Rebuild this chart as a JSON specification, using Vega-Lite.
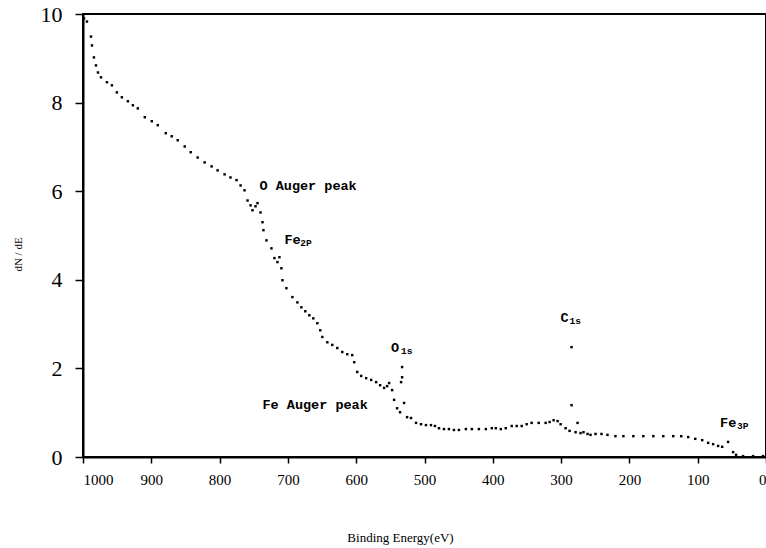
{
  "$schema": "https://vega.github.io/schema/vega-lite/v6.json",
  "width": 683,
  "height": 443,
  "autosize": {"type": "none"},
  "padding": {"left": 83, "top": 14, "right": 0, "bottom": 91},
  "background": "white",
  "config": {
    "view": {"stroke": "black", "strokeWidth": 2},
    "axis": {"grid": false, "domainColor": "black", "domainWidth": 2, "tickColor": "black", "labelColor": "black", "titleColor": "black"}
  },
  "datasets": {
    "spectrum": [
      {"eV": 998.5, "dNdE": 9.90}, {"eV": 994.2, "dNdE": 9.83}, {"eV": 988.3, "dNdE": 9.49}, {"eV": 986.9, "dNdE": 9.29},
      {"eV": 984.0, "dNdE": 9.02}, {"eV": 981.0, "dNdE": 8.84}, {"eV": 978.1, "dNdE": 8.68}, {"eV": 973.7, "dNdE": 8.57},
      {"eV": 965.0, "dNdE": 8.46}, {"eV": 957.7, "dNdE": 8.39}, {"eV": 950.4, "dNdE": 8.23}, {"eV": 943.1, "dNdE": 8.12},
      {"eV": 934.3, "dNdE": 8.03}, {"eV": 927.0, "dNdE": 7.94}, {"eV": 919.7, "dNdE": 7.87}, {"eV": 909.5, "dNdE": 7.67},
      {"eV": 899.3, "dNdE": 7.58}, {"eV": 890.5, "dNdE": 7.49}, {"eV": 878.8, "dNdE": 7.31}, {"eV": 870.1, "dNdE": 7.24},
      {"eV": 861.3, "dNdE": 7.15}, {"eV": 851.1, "dNdE": 7.01}, {"eV": 842.3, "dNdE": 6.88}, {"eV": 832.1, "dNdE": 6.76},
      {"eV": 821.9, "dNdE": 6.65}, {"eV": 811.7, "dNdE": 6.56}, {"eV": 802.9, "dNdE": 6.47}, {"eV": 792.7, "dNdE": 6.38},
      {"eV": 784.1, "dNdE": 6.31}, {"eV": 775.2, "dNdE": 6.25}, {"eV": 769.3, "dNdE": 6.13}, {"eV": 763.5, "dNdE": 6.02},
      {"eV": 759.1, "dNdE": 5.79}, {"eV": 754.7, "dNdE": 5.68}, {"eV": 751.8, "dNdE": 5.57}, {"eV": 747.4, "dNdE": 5.66},
      {"eV": 744.5, "dNdE": 5.73}, {"eV": 740.1, "dNdE": 5.52}, {"eV": 737.2, "dNdE": 5.30}, {"eV": 735.8, "dNdE": 5.12},
      {"eV": 731.4, "dNdE": 4.89}, {"eV": 724.1, "dNdE": 4.71}, {"eV": 719.7, "dNdE": 4.49}, {"eV": 715.3, "dNdE": 4.40},
      {"eV": 712.4, "dNdE": 4.51}, {"eV": 709.5, "dNdE": 4.26}, {"eV": 708.0, "dNdE": 3.99}, {"eV": 702.2, "dNdE": 3.81},
      {"eV": 693.4, "dNdE": 3.61}, {"eV": 686.1, "dNdE": 3.49}, {"eV": 680.3, "dNdE": 3.38}, {"eV": 674.5, "dNdE": 3.29},
      {"eV": 668.6, "dNdE": 3.20}, {"eV": 662.8, "dNdE": 3.13}, {"eV": 656.9, "dNdE": 3.02}, {"eV": 652.6, "dNdE": 2.86},
      {"eV": 649.6, "dNdE": 2.71}, {"eV": 642.3, "dNdE": 2.59}, {"eV": 635.0, "dNdE": 2.53}, {"eV": 627.7, "dNdE": 2.46},
      {"eV": 620.4, "dNdE": 2.37}, {"eV": 613.1, "dNdE": 2.32}, {"eV": 605.8, "dNdE": 2.30}, {"eV": 602.9, "dNdE": 2.14},
      {"eV": 598.5, "dNdE": 1.92}, {"eV": 592.7, "dNdE": 1.83}, {"eV": 585.4, "dNdE": 1.78}, {"eV": 578.1, "dNdE": 1.74},
      {"eV": 570.8, "dNdE": 1.69}, {"eV": 565.0, "dNdE": 1.62}, {"eV": 559.1, "dNdE": 1.56}, {"eV": 554.7, "dNdE": 1.60},
      {"eV": 551.8, "dNdE": 1.67}, {"eV": 547.4, "dNdE": 1.51}, {"eV": 544.5, "dNdE": 1.29}, {"eV": 540.1, "dNdE": 1.10},
      {"eV": 535.8, "dNdE": 1.01}, {"eV": 534.3, "dNdE": 1.69}, {"eV": 532.8, "dNdE": 1.80}, {"eV": 532.8, "dNdE": 2.03},
      {"eV": 529.9, "dNdE": 1.22}, {"eV": 525.5, "dNdE": 0.90}, {"eV": 519.7, "dNdE": 0.88}, {"eV": 512.4, "dNdE": 0.77},
      {"eV": 505.1, "dNdE": 0.74}, {"eV": 497.8, "dNdE": 0.72}, {"eV": 490.5, "dNdE": 0.72}, {"eV": 484.7, "dNdE": 0.70},
      {"eV": 478.8, "dNdE": 0.65}, {"eV": 471.5, "dNdE": 0.63}, {"eV": 464.2, "dNdE": 0.63}, {"eV": 456.9, "dNdE": 0.61},
      {"eV": 449.6, "dNdE": 0.61}, {"eV": 439.4, "dNdE": 0.63}, {"eV": 430.7, "dNdE": 0.63}, {"eV": 420.4, "dNdE": 0.63},
      {"eV": 410.2, "dNdE": 0.63}, {"eV": 401.5, "dNdE": 0.65}, {"eV": 395.6, "dNdE": 0.65}, {"eV": 388.3, "dNdE": 0.63},
      {"eV": 381.0, "dNdE": 0.65}, {"eV": 372.3, "dNdE": 0.70}, {"eV": 365.0, "dNdE": 0.70}, {"eV": 357.7, "dNdE": 0.70},
      {"eV": 350.4, "dNdE": 0.74}, {"eV": 343.1, "dNdE": 0.77}, {"eV": 332.8, "dNdE": 0.77}, {"eV": 322.6, "dNdE": 0.77},
      {"eV": 316.8, "dNdE": 0.79}, {"eV": 311.0, "dNdE": 0.83}, {"eV": 305.1, "dNdE": 0.81}, {"eV": 300.7, "dNdE": 0.74},
      {"eV": 293.4, "dNdE": 0.65}, {"eV": 287.6, "dNdE": 0.59}, {"eV": 284.7, "dNdE": 1.17}, {"eV": 284.7, "dNdE": 2.48},
      {"eV": 278.8, "dNdE": 0.56}, {"eV": 275.9, "dNdE": 0.77}, {"eV": 271.5, "dNdE": 0.54}, {"eV": 267.2, "dNdE": 0.56},
      {"eV": 261.3, "dNdE": 0.52}, {"eV": 256.9, "dNdE": 0.50}, {"eV": 249.6, "dNdE": 0.52}, {"eV": 240.9, "dNdE": 0.52},
      {"eV": 232.1, "dNdE": 0.50}, {"eV": 220.4, "dNdE": 0.47}, {"eV": 208.8, "dNdE": 0.47}, {"eV": 194.2, "dNdE": 0.47},
      {"eV": 179.6, "dNdE": 0.47}, {"eV": 165.0, "dNdE": 0.47}, {"eV": 150.4, "dNdE": 0.47}, {"eV": 135.8, "dNdE": 0.47},
      {"eV": 124.1, "dNdE": 0.47}, {"eV": 113.9, "dNdE": 0.45}, {"eV": 103.6, "dNdE": 0.41}, {"eV": 93.4, "dNdE": 0.38},
      {"eV": 84.7, "dNdE": 0.32}, {"eV": 77.4, "dNdE": 0.29}, {"eV": 70.1, "dNdE": 0.25}, {"eV": 64.2, "dNdE": 0.23},
      {"eV": 55.5, "dNdE": 0.34}, {"eV": 48.2, "dNdE": 0.11}, {"eV": 43.8, "dNdE": 0.05}, {"eV": 33.6, "dNdE": 0.02},
      {"eV": 18.9, "dNdE": 0.02}, {"eV": 4.4, "dNdE": 0.02}
    ],
    "labels": [
      {"eV": 741.6, "dNdE": 6.11, "text": "O Auger peak"},
      {"eV": 705.1, "dNdE": 4.89, "text": "Fe"},
      {"eV": 548.9, "dNdE": 2.46, "text": "O"},
      {"eV": 300.7, "dNdE": 3.13, "text": "C"},
      {"eV": 737.2, "dNdE": 1.17, "text": "Fe Auger peak"},
      {"eV": 67.2, "dNdE": 0.77, "text": "Fe"}
    ],
    "subscripts": [
      {"eV": 681.8, "dNdE": 4.89, "text": "2P"},
      {"eV": 534.3, "dNdE": 2.46, "text": "1s"},
      {"eV": 287.6, "dNdE": 3.13, "text": "1s"},
      {"eV": 42.3, "dNdE": 0.77, "text": "3P"}
    ]
  },
  "encoding": {
    "x": {
      "field": "eV", "type": "quantitative",
      "scale": {"domain": [1000, 0], "nice": false, "zero": false},
      "axis": {
        "title": "Binding Energy(eV)",
        "values": [1000, 900, 800, 700, 600, 500, 400, 300, 200, 100, 0],
        "format": "d",
        "tickSize": 6, "tickWidth": 1.5,
        "labelFont": "Liberation Serif", "labelFontSize": 15, "labelPadding": 9,
        "labelFlush": true,
        "titleFont": "Liberation Serif", "titleFontSize": 13, "titleFontWeight": "normal",
        "titleX": 317, "titleY": 80, "titleAlign": "center", "titleBaseline": "middle"
      }
    },
    "y": {
      "field": "dNdE", "type": "quantitative",
      "scale": {"domain": [0, 10], "nice": false},
      "axis": {
        "title": "dN / dE",
        "values": [0, 2, 4, 6, 8, 10],
        "tickSize": 8, "tickWidth": 1.5,
        "labelFont": "Liberation Serif", "labelFontSize": 22, "labelPadding": 13,
        "titleFont": "Liberation Serif", "titleFontSize": 11, "titleFontWeight": "normal",
        "titleAngle": 270, "titleX": -65, "titleY": 240, "titleAlign": "center", "titleBaseline": "middle"
      }
    }
  },
  "layer": [
    {
      "data": {"name": "spectrum"},
      "mark": {"type": "point", "shape": "square", "filled": true, "size": 6, "color": "black", "opacity": 1}
    },
    {
      "data": {"name": "labels"},
      "mark": {"type": "text", "align": "left", "baseline": "middle", "font": "Liberation Mono", "fontSize": 13.5, "fontWeight": "bold", "color": "black"},
      "encoding": {"text": {"field": "text"}}
    },
    {
      "data": {"name": "subscripts"},
      "mark": {"type": "text", "align": "left", "baseline": "middle", "dy": 3, "font": "Liberation Mono", "fontSize": 9.5, "fontWeight": "bold", "color": "black"},
      "encoding": {"text": {"field": "text"}}
    }
  ]
}
